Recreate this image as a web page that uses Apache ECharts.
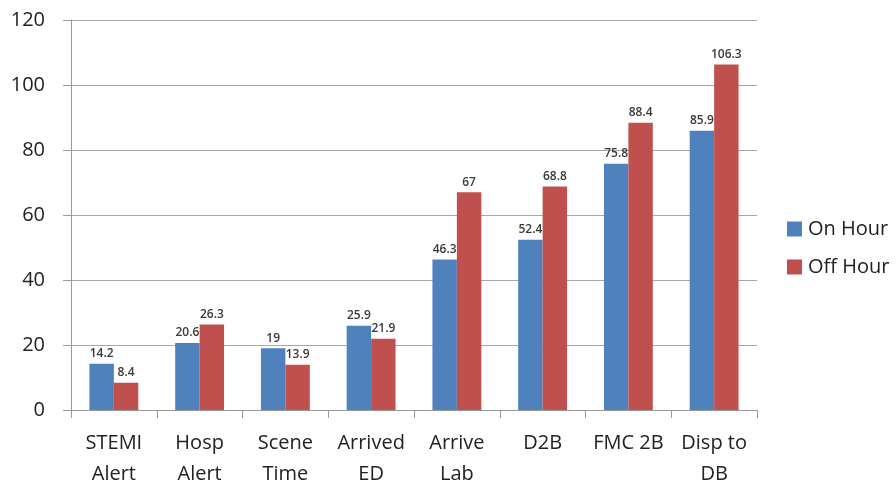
<!DOCTYPE html>
<html>
<head>
<meta charset="utf-8">
<script src="https://cdn.jsdelivr.net/npm/echarts@6/dist/echarts.min.js"></script>
<style>
  html, body { margin: 0; padding: 0; background: #fff; }
  #chart { width: 896px; height: 487px; }
</style>
</head>
<body>
<div id="chart"></div>
<script>
// Category labels along the x axis
const categories = ['STEMI\nAlert', 'Hosp\nAlert', 'Scene\nTime', 'Arrived\nED', 'Arrive\nLab', 'D2B', 'FMC 2B', 'Disp to\nDB'];
// Times in minutes for each series
const onHour = [14.2, 20.6, 19, 25.9, 46.3, 52.4, 75.8, 85.9];
const offHour = [8.4, 26.3, 13.9, 21.9, 67, 68.8, 88.4, 106.3];
const seriesNames = ['On Hour', 'Off Hour'];

const chart = echarts.init(document.getElementById('chart'));
const fontFamily = '"Open Sans", "Noto Sans", "DejaVu Sans", sans-serif';
const labelStyle = {
  show: true,
  position: 'top',
  distance: 4,
  color: '#3a3a3a',
  fontSize: 12,
  fontWeight: 600,
  fontFamily: fontFamily
};

chart.setOption({
  animation: false,
  backgroundColor: '#ffffff',
  grid: { left: 71, right: 139, top: 20, bottom: 77, containLabel: false, outerBoundsMode: 'none' },
  legend: {
    orient: 'vertical',
    left: 782,
    top: 210,
    itemWidth: 15,
    itemHeight: 15,
    itemGap: 10,
    icon: 'rect',
    textStyle: { fontSize: 20, color: '#222', fontFamily: fontFamily, lineHeight: 28, padding: [0, 0, 0, 1] },
    data: seriesNames
  },
  xAxis: {
    type: 'category',
    data: categories,
    axisLine: { lineStyle: { color: '#9a9a9a', width: 1 } },
    axisTick: { show: true, length: 8, alignWithLabel: false, lineStyle: { color: '#9a9a9a' } },
    axisLabel: {
      color: '#222',
      fontSize: 20,
      lineHeight: 31,
      margin: 18,
      interval: 0,
      fontFamily: fontFamily
    }
  },
  yAxis: {
    type: 'value',
    min: 0,
    max: 120,
    interval: 20,
    axisLine: { show: true, lineStyle: { color: '#9a9a9a', width: 1 } },
    axisTick: { show: true, length: 8, lineStyle: { color: '#9a9a9a' } },
    splitLine: { show: true, lineStyle: { color: '#a8a8a8', width: 1 } },
    axisLabel: { color: '#222', fontSize: 20, margin: 26, fontFamily: fontFamily }
  },
  series: [
    {
      name: seriesNames[0],
      type: 'bar',
      data: onHour,
      barGap: '0%',
      barCategoryGap: '43%',
      itemStyle: { color: '#4F81BD' },
      label: labelStyle
    },
    {
      name: seriesNames[1],
      type: 'bar',
      data: offHour,
      itemStyle: { color: '#C0504D' },
      label: labelStyle
    }
  ]
});
</script>
</body>
</html>
